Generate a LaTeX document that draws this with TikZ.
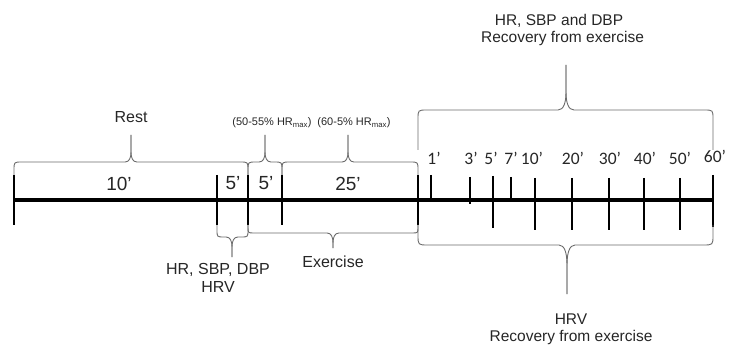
\documentclass[tikz,border=0pt]{standalone}
\usepackage{fontspec}
\setmainfont{Liberation Sans}
\newfontfamily\calfont{Carlito}
\definecolor{textc}{gray}{0.15}
\definecolor{bracec}{gray}{0.42}
% x1 x2 xm yend yflat ytip curl flare-halfwidth flare-height
\newcommand\drawbrace[9]{%
  \draw[bracestyle] (#1,#4) -- (#1,{#5+(#7)}) .. controls (#1,#5) .. ({#1+abs(#7)},#5)
    -- ({#3-(#8)},#5) .. controls ({#3-0.3*(#8)},#5) and (#3,{#5-0.4*(#9)}) .. (#3,{#5-(#9)})
    -- (#3,#6);
  \draw[bracestyle] (#3,#6) -- (#3,{#5-(#9)}) .. controls (#3,{#5-0.4*(#9)}) and ({#3+0.3*(#8)},#5) .. ({#3+(#8)},#5)
    -- ({#2-abs(#7)},#5) .. controls (#2,#5) .. (#2,{#5+(#7)}) -- (#2,#4);}
\begin{document}
\begin{tikzpicture}[x=1pt,y=-1pt,
  bracestyle/.style={draw=bracec,line width=0.9pt,line join=round},
  tickline/.style={draw=black,line width=1.6pt},
  axisline/.style={draw=black,line width=4.6pt},
  lbl/.style={anchor=base,inner sep=0pt,text=textc},
  big/.style={lbl,font=\fontsize{19}{22}\selectfont},
  mid/.style={lbl,font=\fontsize{16}{18}\selectfont},
  tall/.style={lbl,font=\fontsize{15.5}{17}\selectfont},
  small/.style={lbl,font=\fontsize{11}{13}\selectfont},
  rlab/.style={lbl,font=\calfont\fontsize{17.5}{20}\selectfont}]
\useasboundingbox (0,0) rectangle (730,347);
% axis
\coordinate (axL) at (14,200);
\coordinate (axR) at (713,200);
\draw[axisline] (axL) -- (axR);
% ticks
\foreach \x/\a/\b in {14/175/225,217/175/225,248/175/225,282/175/225,418/175/225,
  431/175/198,470/177/204,493/176/228,511/177/202,535/178/230,572/178/230,
  609/178/230,644/178/230,680/178/230,713/175/227}
  \draw[tickline] (\x,\a) -- (\x,\b);
% braces above
\drawbrace{14}{248}{131}{175}{162}{135}{8}{6}{10}
\drawbrace{248}{282}{265}{175}{162}{135}{8}{6}{10}
\drawbrace{282}{418}{348}{175}{162}{135}{8}{6}{10}
\drawbrace{418}{713}{566}{150}{110}{65}{9}{8}{18}
% braces below
\drawbrace{217}{248}{232}{225}{237}{257}{-7}{6}{-10}
\drawbrace{248}{418}{333}{225}{233}{248}{-6}{6}{-10}
\drawbrace{418}{713}{567}{225}{245}{294}{-10}{8}{-20}
% left labels
\node[mid] (rest) at (131,123) {Rest};
\node[big] (ten) at (119,191) {10’};
\node[big] (fiveA) at (233,190) {5’};
\node[big] (fiveB) at (266,190) {5’};
\node[big] (tfive) at (348,191) {25’};
\node[small] (pctA) at (272,126) {(50-55\% HR\textsubscript{max})};
\node[small] (pctB) at (354,126) {(60-5\% HR\textsubscript{max})};
\node[mid] (hrsbp) at (218,274) {HR, SBP, DBP};
\node[mid] (hrvA) at (218,292) {HRV};
\node[mid] (exer) at (333,267) {Exercise};
% right labels
\node[tall] (topA) at (559,26) {HR, SBP and DBP};
\node[tall] (topB) at (562.5,42.5) {Recovery from exercise};
\node[tall] (botA) at (571,324) {HRV};
\node[tall] (botB) at (571,341) {Recovery from exercise};
\node[rlab] (m1) at (434,165) {1’};
\node[rlab] (m3) at (471,165) {3’};
\node[rlab] (m5) at (491,165) {5’};
\node[rlab] (m7) at (511,165) {7’};
\node[rlab] (m10) at (532,165) {10’};
\node[rlab] (m20) at (573,165) {20’};
\node[rlab] (m30) at (610,165) {30’};
\node[rlab] (m40) at (645,165) {40’};
\node[rlab] (m50) at (680,165) {50’};
\node[rlab] (m60) at (715,163) {60’};
\end{tikzpicture}
\end{document}
